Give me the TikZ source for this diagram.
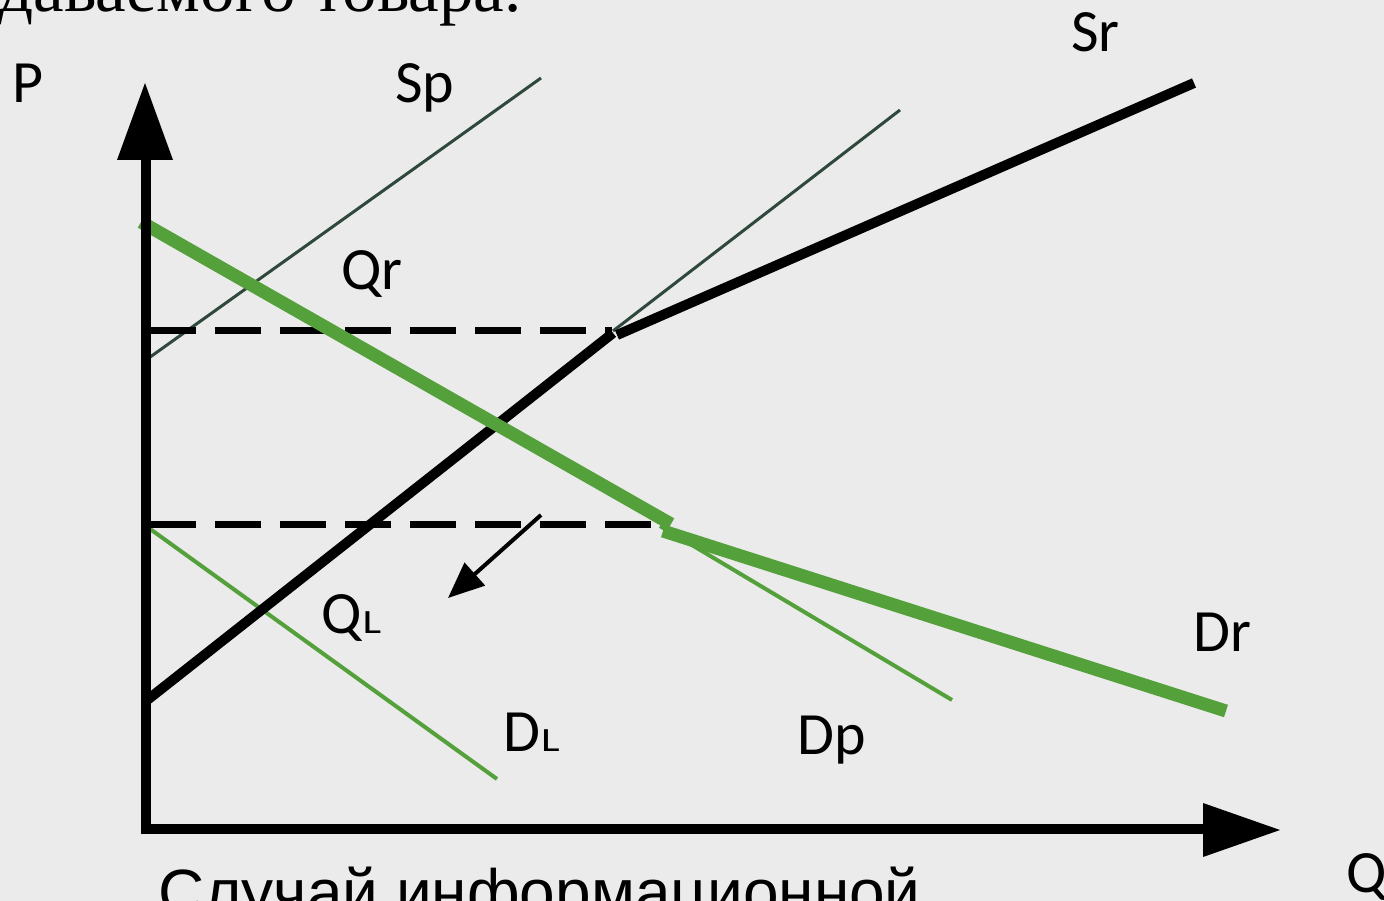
\documentclass[tikz,border=0pt]{standalone}
\usepackage{fontspec}
\setmainfont{Liberation Serif}
\newfontfamily\labfont{Carlito}
\newfontfamily\capfont{Liberation Sans}
\usetikzlibrary{arrows.meta}
\definecolor{bgc}{RGB}{235,235,235}
\definecolor{thickgreen}{RGB}{84,160,58}
\definecolor{thingreen}{RGB}{84,160,58}
\definecolor{spcol}{RGB}{47,72,60}
\tikzset{
  lab/.style={inner sep=0pt, anchor=base west, font=\labfont\fontsize{60}{72}\selectfont},
  axisline/.style={line width=10pt, black},
  thickblack/.style={line width=10pt, black},
  thickgr/.style={line width=13pt, thickgreen},
  thingr/.style={line width=4pt, thingreen},
  thinsp/.style={line width=3pt, spcol},
  dashline/.style={line width=7pt, black, dash pattern=on 46pt off 19pt},
  shiftarrow/.style={line width=4pt, black, -{Triangle[length=36pt,width=30pt]}}
}
\newcommand{\smallL}{\kern1pt\scalebox{1.3}[1]{\fontsize{34}{38}\selectfont L}}
\begin{document}
\begin{tikzpicture}[x=1pt,y=-1pt]
\useasboundingbox (0,0) rectangle (1384,901);
\clip (0,0) rectangle (1384,901);
\fill[bgc] (0,0) rectangle (1384,901);

% top cut-off text
\node[inner sep=0pt, anchor=base east, font=\fontsize{69}{82}\selectfont] (toptext) at (522,12) {продаваемого товара.};

% coordinates
\coordinate (Ytop) at (146,160);
\coordinate (Xend) at (1205,829);
\coordinate (SpA) at (146,360);
\coordinate (SpB) at (541,78);
\coordinate (SpC) at (613,331);
\coordinate (SpD) at (900,110);
\coordinate (SrA) at (146,701);
\coordinate (SrK) at (613,333);
\coordinate (SrK2) at (617,335);
\coordinate (SrB) at (1194,83);
\coordinate (DrA) at (141,222);
\coordinate (DrK) at (671,524);
\coordinate (DrK2) at (663,531);
\coordinate (DrB) at (1226,711);
\coordinate (DpA) at (660,526);
\coordinate (DpB) at (952,700);
\coordinate (DLA) at (146,526);
\coordinate (DLB) at (497,779);
\coordinate (QrL) at (150,330);
\coordinate (QrR) at (612,330);
\coordinate (QLL) at (150,524);
\coordinate (QLR) at (662,524);
\coordinate (ArA) at (541,515);
\coordinate (ArB) at (448,598);

% thin lines
\draw[thinsp] (SpA) -- (SpB);
\draw[thinsp] (SpC) -- (SpD);
\draw[thingr] (DpA) -- (DpB);
\draw[thingr] (DLA) -- (DLB);

% dashed levels
\draw[dashline] (QrL) -- (QrR);
\draw[dashline] (QLL) -- (QLR);

% supply (thick)
\draw[thickblack] (SrA) -- (SrK);
\draw[thickblack] (SrK2) -- (SrB);

% demand (thick green)
\draw[thickgr] (DrA) -- (DrK);
\draw[thickgr] (DrK2) -- (DrB);

% axes
\draw[axisline] (146,834) -- (Ytop);
\draw[axisline] (141,829) -- (Xend);
\fill[black] (117,160) -- (145,83) -- (173,160) -- cycle;
\fill[black] (1203,803) -- (1280,830) -- (1203,857) -- cycle;

% shift arrow
\draw[shiftarrow] (ArA) -- (ArB);

% labels
\node[lab] (P) at (12,103) {P};
\node[lab] (Sp) at (395,103) {Sp};
\node[lab] (Sr) at (1071,52) {Sr};
\node[lab] (Qr) at (341,290) {Qr};
\node[lab] (QL) at (321,633) {Q\smallL};
\node[lab] (DL) at (503,751) {D\smallL};
\node[lab] (Dp) at (797,754) {Dp};
\node[lab] (Dr) at (1193,651) {Dr};
\node[lab] (Q) at (1346,892) {Q};
\node[inner sep=0pt, anchor=base west, font=\capfont\fontsize{64}{76}\selectfont] (caption) at (158,914) {Случай информационной};
\end{tikzpicture}
\end{document}
